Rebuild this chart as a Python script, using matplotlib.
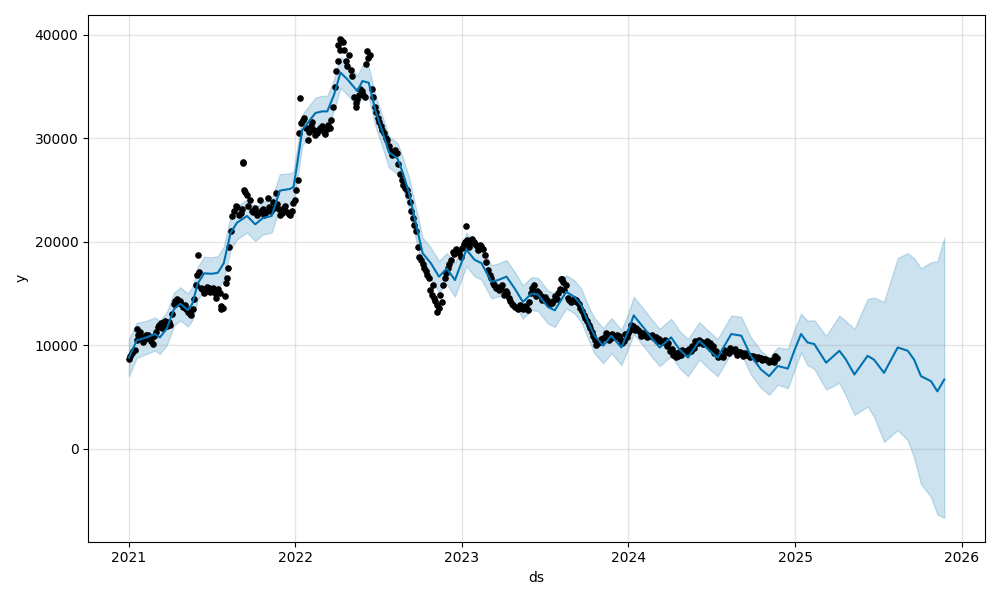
import matplotlib
matplotlib.use("Agg")
import matplotlib.pyplot as plt
import pandas as pd

obs_start = "2021-01-01"
obs_y = [
    # 2021
    8700, 9200, 9500, 11000, 10800, 10600, 11000, 10400, 10900, 11800,
    12100, 12200, 11900, 12000, 14000, 14500, 14300, 13700, 13500, 13000,
    13500, 15800, 17100, 15400, 15200, 15500, 15300, 15000, 15400, 13800,
    14800, 17500, 21000, 23000, 23400, 22800, 25000, 24500, 24000, 22900,
    22600, 24000, 23200, 22900, 23400, 23800, 24700, 23200, 22800, 23500,
    22700, 23000, 24000,
    # 2022
    26000, 31500, 32000, 29800, 31200, 30800, 30500, 31000, 30600, 30900,
    31000, 33000, 36500, 38500, 39300, 37500, 38000, 36000, 33400, 34200,
    34600, 34000, 37800, 34800, 33000, 32000, 31200, 30500, 29800, 28800,
    28500, 28600, 26500, 25500, 25000, 23800, 22300, 21000, 18500, 17800,
    17200, 16500, 14900, 14300, 13600, 14200, 16500, 17500, 18200, 18800,
    19000, 18500,
    # 2023
    19800, 20200, 19900, 20000, 19600, 19700, 19300, 18000, 16800, 16000,
    15500, 15300, 15800, 15200, 14600, 14000, 13700, 13500, 13600, 13800,
    13400, 15000, 15800, 15200, 14800, 14600, 14400, 14000, 14300, 14500,
    15400, 16100, 15800, 14400, 14300, 14400, 14000, 13300, 12600, 12000,
    11300, 10500, 10200, 10600, 10800, 11000, 10700, 10900, 11000, 10600,
    10400, 10800,
    # 2024
    11500, 11900, 11700, 11300, 11000, 11100, 10900, 11000, 10800, 10600,
    10300, 10500, 10200, 9600, 9200, 9000, 9100, 9400, 9500, 9400,
    9700, 10200, 10300, 10100, 10400, 10200, 9900, 9400, 9000, 8900,
    9300, 9200, 9500, 9600, 9300, 9200, 9200, 9100, 9000, 8900,
    8900, 8800, 8700, 8600, 8500, 8400, 8800,
]

# mid-week observations (weekly, three days later)
obs_mid_start = "2021-01-04"
obs_mid_y = [
    # 2021
    9000, 9400, 10500, 11300, 10300, 11000, 10700, 10100, 11300, 12000,
    11700, 12300, 12200, 13000, 14300, 14100, 14000, 13900, 13200, 12900,
    14500, 16800, 15500, 15000, 15600, 15100, 15500, 14600, 15000, 13600,
    16000, 19500, 22500, 23500, 22600, 23200, 24800, 23500, 23000, 23300,
    22800, 23000, 22600, 24200, 23000, 23300, 23600, 22600, 23300, 22900,
    22600, 23700,
    # 2022
    25000, 30500, 31800, 31000, 30600, 31600, 30300, 30800, 31200, 30400,
    31300, 31800, 35000, 37500, 39500, 38500, 37000, 36600, 34000, 33800,
    34800, 34200, 37200, 38000, 34000, 32500, 31600, 30800, 30000, 29300,
    28400, 28900, 27500, 26000, 25200, 24500, 23000, 21600, 19500, 18200,
    17500, 16800, 15300, 14600, 13900, 14900, 15800, 17000, 17800, 19000,
    19300, 18900,
    # 2023
    19400, 20000, 19500, 20300, 19800, 19200, 19600, 18700, 17300, 16500,
    15800, 15600, 15400, 14900, 15000, 14300, 13900, 13600, 13900, 13500,
    13700, 14200, 15500, 14800, 15000, 14400, 14700, 14200, 14100, 14800,
    15000, 16400, 15300, 14600, 14200, 14500, 14200, 13600, 12900, 12300,
    11700, 10900, 10000, 10300, 10700, 11200, 10500, 11100, 10800, 10900,
    10200, 11100,
    # 2024
    11200, 12000, 11500, 11500, 10900, 11200, 10800, 10900, 10700, 10400,
    10400, 10300, 9900, 9400, 9100, 8900, 9300, 9500, 9300, 9600,
    9900, 10400, 10200, 10300, 10200, 10000, 9600, 9200, 8900, 9000,
    9500, 9300, 9700, 9400, 9100, 9300, 9000, 9100, 8900, 9000,
    8700, 8800, 8600, 8700, 8400, 8600, 9000,
]

# extra isolated observations (outliers)
extra_ds = ["2021-01-19", "2021-06-02", "2021-07-22", "2021-08-05", "2021-09-08",
            "2021-09-09", "2022-01-12", "2022-04-05", "2022-04-10", "2022-05-14",
            "2022-06-08", "2022-10-30", "2022-11-08", "2023-01-10", "2023-08-08",
            "2024-06-05"]
extra_y = [11600, 18700, 13500, 16500, 27700,
           27600, 33900, 39000, 39600, 33000,
           38400, 15800, 13200, 21500, 16400,
           10500]

# ---- model fit / forecast ----
fc_ds = [
    "2021-01-01", "2021-01-18", "2021-02-09", "2021-02-27", "2021-03-10", "2021-03-25",
    "2021-04-10", "2021-04-24", "2021-05-10", "2021-05-20", "2021-06-01", "2021-06-15",
    "2021-07-01", "2021-07-15", "2021-07-28", "2021-08-12", "2021-08-26", "2021-09-17",
    "2021-10-05", "2021-10-22", "2021-11-10", "2021-11-28", "2021-12-20",
    "2021-12-28", "2022-01-05", "2022-01-16", "2022-02-14", "2022-03-01", "2022-03-12",
    "2022-03-27", "2022-04-10", "2022-04-25", "2022-05-17", "2022-05-28", "2022-06-11",
    "2022-06-26", "2022-07-11", "2022-07-25", "2022-08-13", "2022-08-24", "2022-09-07",
    "2022-09-22", "2022-10-07", "2022-10-25", "2022-11-12", "2022-11-29", "2022-12-17",
    "2023-01-11", "2023-01-29", "2023-02-13", "2023-03-07", "2023-03-22", "2023-04-09",
    "2023-04-27", "2023-05-15", "2023-06-03", "2023-06-17", "2023-07-09", "2023-07-24",
    "2023-08-18", "2023-09-05", "2023-09-20", "2023-10-05", "2023-10-19", "2023-11-07",
    "2023-11-25", "2023-12-17", "2023-12-31",
    "2024-01-13", "2024-02-06", "2024-02-20", "2024-03-10", "2024-04-04", "2024-04-22",
    "2024-05-11", "2024-06-05", "2024-06-24", "2024-07-15", "2024-08-14", "2024-09-05",
    "2024-09-26", "2024-10-18", "2024-11-05", "2024-11-24", "2024-12-16", "2024-12-30",
    "2025-01-14", "2025-01-28", "2025-02-12", "2025-03-10", "2025-04-08", "2025-04-22",
    "2025-05-11", "2025-06-09", "2025-06-23", "2025-07-15", "2025-08-14", "2025-09-05",
    "2025-09-19", "2025-10-04", "2025-10-26", "2025-11-09", "2025-11-24",
]
yhat = [
    8800, 10460, 10760, 11080, 10760, 11600,
    13500, 14000, 13400, 14000, 15970, 16950,
    16900, 17000, 17930, 20860, 21840, 22490,
    21680, 22300, 22490, 24940, 25100,
    25300, 27500, 30800, 32440, 32600, 32600,
    34230, 36350, 35700, 34550, 35530, 35370,
    32600, 30640, 28680, 28040, 26730, 24770,
    21840, 18900, 17930, 16630, 17400, 16300,
    19240, 18260, 17930, 16140, 16300, 16630,
    15480, 14180, 14990, 14900, 13690, 13370,
    15160, 14670, 13860, 12220, 10920, 9950,
    10920, 9780, 11250,
    12880, 11570, 10760, 9780, 10760, 9610,
    8800, 10430, 9610, 8800, 11080, 10920,
    8970, 7660, 7010, 7990, 7740, 9450,
    11080, 10270, 10110, 8310, 9460, 8640,
    7170, 8970, 8600, 7330, 9780, 9460,
    8600, 7010, 6520, 5540, 6680,
]
band_up = [
    1800, 1700, 1600, 1600, 1600, 1600,
    1600, 1600, 1600, 1600, 1600, 1600,
    1600, 1600, 1600, 1600, 1600, 1600,
    1600, 1600, 1600, 1600, 1500,
    1500, 1500, 1500, 1500, 1500, 1500,
    1500, 1500, 1500, 1500, 1500, 1500,
    1500, 1500, 1500, 1500, 1500, 1500,
    1500, 1500, 1500, 1500, 1500, 1600,
    1600, 1600, 1600, 1600, 1600, 1600,
    1600, 1600, 1600, 1600, 1600, 1600,
    1600, 1600, 1600, 1600, 1700, 1700,
    1700, 1700, 1700,
    1800, 1800, 1800, 1800, 1800, 1800,
    1800, 1800, 1800, 1800, 1800, 1800,
    1800, 1800, 1800, 1800, 1900, 2000,
    1960, 2100, 2300, 2600, 3400, 3700,
    4400, 5500, 6000, 6850, 8640, 9440,
    9800, 10430, 11500, 12550, 13690,
]
band_lo = [
    1800, 1700, 1600, 1600, 1600, 1600,
    1600, 1600, 1600, 1600, 1600, 1600,
    1600, 1600, 1600, 1600, 1600, 1600,
    1600, 1600, 1600, 1600, 1500,
    1500, 1500, 1500, 1500, 1500, 1500,
    1500, 1500, 1500, 1500, 1500, 1500,
    1500, 1500, 1500, 1500, 1500, 1500,
    1500, 1500, 1500, 1500, 1500, 1600,
    1600, 1600, 1600, 1600, 1600, 1600,
    1600, 1600, 1600, 1600, 1600, 1600,
    1600, 1600, 1600, 1600, 1700, 1700,
    1700, 1700, 1700,
    1800, 1800, 1800, 1800, 1800, 1800,
    1800, 1800, 1800, 1800, 1800, 1800,
    1800, 1800, 1800, 1800, 1900, 1900,
    1790, 2200, 2400, 2600, 3100, 3500,
    3900, 4900, 5500, 6670, 7990, 8650,
    9500, 10430, 11200, 11900, 13360,
]

obs_ds = pd.date_range(obs_start, periods=len(obs_y), freq="7D")
obs_mid_ds = pd.date_range(obs_mid_start, periods=len(obs_mid_y), freq="7D")
fds = pd.to_datetime(fc_ds)
upper = [v + u for v, u in zip(yhat, band_up)]
lower = [v - l for v, l in zip(yhat, band_lo)]

fig, ax = plt.subplots(figsize=(10, 6), dpi=100)
ax.plot(obs_ds, obs_y, "k.", markersize=7.5)
ax.plot(obs_mid_ds, obs_mid_y, "k.", markersize=7.5)
ax.plot(pd.to_datetime(extra_ds), extra_y, "k.", markersize=7.5)
ax.plot(fds, yhat, ls="-", c="#0072B2", lw=1.5)
ax.fill_between(fds, lower, upper, color="#0072B2", alpha=0.2)
ax.grid(True, which="major", c="gray", ls="-", lw=1, alpha=0.2)
ax.set_xlabel("ds")
ax.set_ylabel("y")
fig.tight_layout()
fig.savefig("out.png", dpi=100)
